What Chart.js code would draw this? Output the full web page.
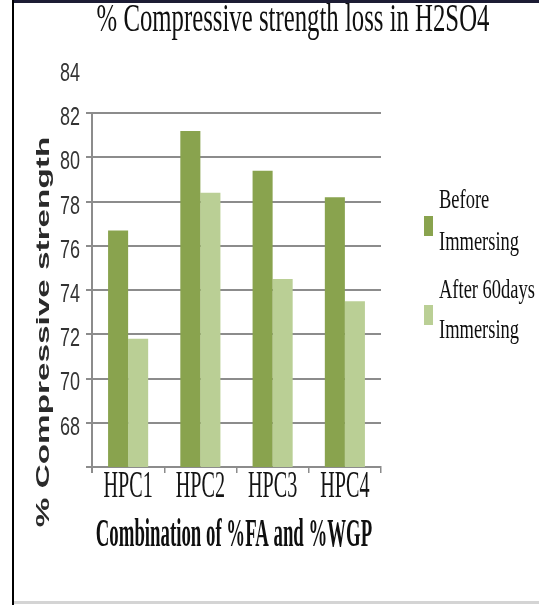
<!DOCTYPE html>
<html>
<head>
<meta charset="utf-8">
<title>% Compressive strength loss in H2SO4</title>
<script src="https://cdn.jsdelivr.net/npm/chart.js@4/dist/chart.umd.min.js"></script>
<style>
  html, body { margin: 0; padding: 0; background: #ffffff; }
  canvas { display: block; }
</style>
</head>
<body>
<canvas id="chart" width="539" height="605"></canvas>
<script>
// Mix designs (x categories)
const categories = ['HPC1', 'HPC2', 'HPC3', 'HPC4'];

// Compressive strength (%) before and after 60 days in H2SO4
const beforeImmersing = [76.7, 81.2, 79.4, 78.2];
const after60Days = [71.8, 78.4, 74.5, 73.5];

// Legend entries, one line of text per row
const beforeLabelLines = ['Before', 'Immersing'];
const afterLabelLines = ['After 60days', 'Immersing'];

// Value axis
const yMin = 66;
const yMax = 84;
const yStep = 2;
const yTickLabels = ['68', '70', '72', '74', '76', '78', '80', '82', '84'];

const chartTitle = '% Compressive strength loss in H2SO4';
const xAxisTitle = 'Combination of %FA and %WGP';
const yAxisTitle = '% Compressive strength';

const DARK_GREEN = '#89a34e';
const LIGHT_GREEN = '#bacf95';
const GRID = '#8c8c8c';
const SERIF = '"Liberation Serif", "Times New Roman", serif';
const SANS = '"Liberation Sans", Arial, sans-serif';

// Draw text squeezed or stretched along its baseline
function drawScaledText(ctx, text, x, y, font, sx, align, color) {
  ctx.save();
  ctx.font = font;
  ctx.fillStyle = color;
  ctx.textAlign = align;
  ctx.textBaseline = 'alphabetic';
  ctx.translate(x, y);
  ctx.scale(sx, 1);
  ctx.fillText(text, 0, 0);
  ctx.restore();
}

const decorations = {
  id: 'decorations',
  beforeDraw(chart) {
    const ctx = chart.ctx;
    ctx.save();
    ctx.fillStyle = '#ffffff';
    ctx.fillRect(0, 0, chart.width, chart.height);
    ctx.restore();
  },
  afterDraw(chart) {
    const ctx = chart.ctx;
    const area = chart.chartArea;
    const xs = chart.scales.x;
    const ys = chart.scales.y;

    // vertical value axis line
    ctx.save();
    ctx.strokeStyle = GRID;
    ctx.lineWidth = 2;
    ctx.beginPath();
    ctx.moveTo(area.left, ys.getPixelForValue(82));
    ctx.lineTo(area.left, area.bottom + 6);
    ctx.stroke();
    ctx.restore();

    // value tick labels, narrow figures
    yTickLabels.forEach(t => {
      const py = ys.getPixelForValue(Number(t)) + 5;
      ctx.save();
      ctx.font = '25px ' + SANS;
      ctx.fillStyle = '#333333';
      ctx.textAlign = 'right';
      ctx.textBaseline = 'middle';
      ctx.translate(80, py);
      ctx.scale(0.72, 1);
      ctx.fillText(t, 0, 0);
      ctx.restore();
    });

    // title
    drawScaledText(ctx, chartTitle, 293, 31, '39px ' + SERIF, 0.635, 'center', '#0f0f0f');

    // category labels under the axis
    categories.forEach((c, i) => {
      drawScaledText(ctx, c, xs.getPixelForTick(i), 497, '38px ' + SERIF, 0.53, 'center', '#141414');
    });

    // x axis title
    drawScaledText(ctx, xAxisTitle, 234, 546, 'bold 40px ' + SERIF, 0.47, 'center', '#0f0f0f');

    // y axis title (rotated)
    ctx.save();
    ctx.font = 'bold 18px ' + SANS;
    ctx.fillStyle = '#2a2a2a';
    ctx.textAlign = 'center';
    ctx.textBaseline = 'middle';
    ctx.translate(44, 332);
    ctx.rotate(-Math.PI / 2);
    ctx.scale(1.85, 1);
    ctx.fillText(yAxisTitle, 0, 0);
    ctx.restore();

    // legend
    const entries = [
      { lines: beforeLabelLines, color: chart.data.datasets[0].backgroundColor, baselines: [208, 250] },
      { lines: afterLabelLines, color: chart.data.datasets[1].backgroundColor, baselines: [298, 338] }
    ];
    entries.forEach(e => {
      const mid = (e.baselines[0] + e.baselines[1]) / 2 - 3;
      ctx.save();
      ctx.fillStyle = e.color;
      ctx.fillRect(424, mid - 10, 9, 20);
      ctx.restore();
      e.lines.forEach((t, k) => {
        drawScaledText(ctx, t, 439, e.baselines[k], '28px ' + SERIF, 0.66, 'left', '#0f0f0f');
      });
    });

    // page frame
    ctx.save();
    ctx.fillStyle = '#1c1c34';
    ctx.fillRect(12, 0, chart.width - 12, 3);
    ctx.fillStyle = '#000000';
    ctx.fillRect(12, 0, 2, chart.height);
    ctx.fillStyle = '#d4d4d4';
    ctx.fillRect(14, 601, chart.width - 14, 3);
    ctx.restore();
  }
};

new Chart(document.getElementById('chart'), {
  type: 'bar',
  data: {
    labels: categories,
    datasets: [
      {
        label: beforeLabelLines.join(' '),
        data: beforeImmersing,
        backgroundColor: DARK_GREEN,
        borderWidth: 0,
        barPercentage: 1.0,
        categoryPercentage: 0.555
      },
      {
        label: afterLabelLines.join(' '),
        data: after60Days,
        backgroundColor: LIGHT_GREEN,
        borderWidth: 0,
        barPercentage: 1.0,
        categoryPercentage: 0.555
      }
    ]
  },
  options: {
    responsive: false,
    animation: false,
    devicePixelRatio: 1,
    layout: { padding: { left: 0, top: 69, right: 158, bottom: 132 } },
    plugins: {
      legend: { display: false },
      title: { display: false },
      tooltip: { enabled: false }
    },
    scales: {
      x: {
        offset: true,
        afterFit: s => { s.height = 6; },
        ticks: { display: false },
        grid: {
          offset: true,
          drawOnChartArea: false,
          drawTicks: true,
          tickLength: 6,
          color: GRID,
          lineWidth: 1.5
        },
        border: { display: true, color: GRID, width: 2 }
      },
      y: {
        min: yMin,
        max: yMax,
        afterFit: s => { s.width = 92; },
        ticks: { display: false, stepSize: yStep },
        grid: {
          drawTicks: true,
          tickLength: 6,
          lineWidth: 2,
          color: c => (c.tick && c.tick.value === yMax ? 'rgba(0,0,0,0)' : GRID)
        },
        border: { display: false }
      }
    }
  },
  plugins: [decorations]
});
</script>
</body>
</html>
